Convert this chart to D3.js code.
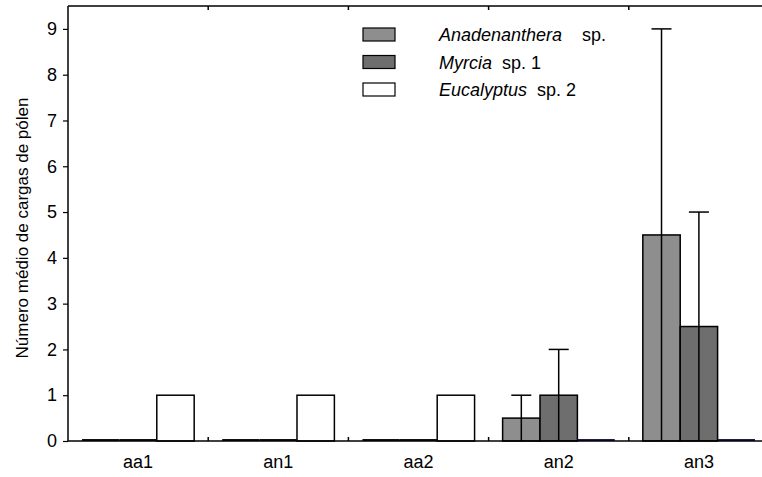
<!DOCTYPE html>
<html lang="pt">

<head>
  <meta charset="utf-8">
  <title>Cargas de pólen</title>
  <script src="https://cdn.jsdelivr.net/npm/d3@7"></script>
  <style>
    body { margin: 0; background: #fff; }
    text { font-family: "Liberation Sans", Arial, sans-serif; fill: #000; }
  </style>
</head>

<body>
  <script>
    var categories = ["aa1", "an1", "aa2", "an2", "an3"];
    var seriesNames = ["Anadenanthera", "Myrcia", "Eucalyptus"];
    var anadenanthera = [0, 0, 0, 0.5, 4.5];
    var anadenantheraErr = [0, 0, 0, 0.5, 4.5];
    var myrcia = [0, 0, 0, 1, 2.5];
    var myrciaErr = [0, 0, 0, 1, 2.5];
    var eucalyptus = [1, 1, 1, 0, 0];
    var eucalyptusErr = [0, 0, 0, 0, 0];
    var yTicks = [0, 1, 2, 3, 4, 5, 6, 7, 8, 9];

    var w = 762;
    var h = 477;
    var margin = { left: 68, right: 769, top: 6, bottom: 441 };

    var fills = ["#8e8e8e", "#6e6e6e", "#ffffff"];
    var zeroStroke = ["#111", "#111", "#1c1c55"];
    var values = [anadenanthera, myrcia, eucalyptus];
    var errors = [anadenantheraErr, myrciaErr, eucalyptusErr];

    var x = d3.scaleBand()
      .domain(categories)
      .range([margin.left, margin.right])
      .paddingInner(0.2)
      .paddingOuter(0.1);
    var xs = d3.scaleBand()
      .domain(d3.range(seriesNames.length))
      .range([0, x.bandwidth()]);
    var y = d3.scaleLinear()
      .domain([0, 9.5])
      .range([margin.bottom, margin.top]);

    var svg = d3.select("body").append("svg")
      .attr("width", w)
      .attr("height", h);

    // rows of bars, one per category and series
    var rows = [];
    categories.forEach(function (c, i) {
      seriesNames.forEach(function (s, j) {
        rows.push({ cat: c, s: j, v: values[j][i], e: errors[j][i] });
      });
    });

    function bx(d) { return x(d.cat) + xs(d.s); }
    function cx(d) { return bx(d) + xs.bandwidth() / 2; }

    var g = svg.append("g");
    g.selectAll(".bar")
      .data(rows.filter(function (d) { return d.v > 0; }))
      .enter()
      .append("rect")
      .attr("x", bx)
      .attr("y", function (d) { return y(d.v); })
      .attr("width", xs.bandwidth())
      .attr("height", function (d) { return y(0) - y(d.v); })
      .attr("fill", function (d) { return fills[d.s]; })
      .attr("stroke", "#000")
      .attr("stroke-width", 1.5);

    // zero-height bars show as a flat line on the baseline
    g.selectAll(".zero")
      .data(rows.filter(function (d) { return d.v === 0; }))
      .enter()
      .append("line")
      .attr("x1", bx)
      .attr("x2", function (d) { return bx(d) + xs.bandwidth(); })
      .attr("y1", y(0) - 1)
      .attr("y2", y(0) - 1)
      .attr("stroke", function (d) { return zeroStroke[d.s]; })
      .attr("stroke-width", 2);

    var errRows = rows.filter(function (d) { return d.e > 0; });
    g.selectAll(".err")
      .data(errRows)
      .enter()
      .append("line")
      .attr("x1", cx)
      .attr("x2", cx)
      .attr("y1", function (d) { return y(d.v - d.e); })
      .attr("y2", function (d) { return y(d.v + d.e); })
      .attr("stroke", "#000")
      .attr("stroke-width", 1.5);
    g.selectAll(".cap")
      .data(errRows)
      .enter()
      .append("line")
      .attr("x1", function (d) { return cx(d) - 10; })
      .attr("x2", function (d) { return cx(d) + 10; })
      .attr("y1", function (d) { return y(d.v + d.e); })
      .attr("y2", function (d) { return y(d.v + d.e); })
      .attr("stroke", "#000")
      .attr("stroke-width", 1.5);

    // frame
    var frame = svg.append("g").attr("stroke", "#000").attr("stroke-width", 1.5);
    frame.append("line").attr("x1", margin.left).attr("x2", margin.left).attr("y1", margin.top).attr("y2", margin.bottom);
    frame.append("line").attr("x1", margin.left).attr("x2", margin.right).attr("y1", margin.bottom).attr("y2", margin.bottom);
    frame.append("line").attr("x1", margin.left).attr("x2", margin.right).attr("y1", margin.top).attr("y2", margin.top);

    // category boundary ticks, top and bottom
    var bounds = d3.range(1, categories.length).map(function (i) { return margin.left + i * x.step(); });
    frame.selectAll(".bt").data(bounds).enter().append("line")
      .attr("x1", function (d) { return d; }).attr("x2", function (d) { return d; })
      .attr("y1", margin.bottom).attr("y2", margin.bottom - 4);
    frame.selectAll(".tt").data(bounds).enter().append("line")
      .attr("x1", function (d) { return d; }).attr("x2", function (d) { return d; })
      .attr("y1", margin.top).attr("y2", margin.top + 4);

    // y axis
    var yAxis = svg.append("g")
      .attr("transform", "translate(" + margin.left + ",0)")
      .call(d3.axisLeft(y).tickValues(yTicks).tickSize(5).tickPadding(6).tickFormat(d3.format("d")));
    yAxis.select(".domain").remove();
    yAxis.selectAll(".tick line").attr("stroke-width", 1.2);
    yAxis.selectAll("text")
      .attr("font-size", 18)
      .style("font-family", "Liberation Sans, Arial, sans-serif");

    // x labels
    svg.selectAll(".xl")
      .data(categories)
      .enter()
      .append("text")
      .attr("x", function (d) { return x(d) + x.bandwidth() / 2; })
      .attr("y", 468)
      .attr("text-anchor", "middle")
      .attr("font-size", 18)
      .text(function (d) { return d; });

    svg.append("text")
      .attr("transform", "translate(28,228) rotate(-90)")
      .attr("text-anchor", "middle")
      .attr("font-size", 17)
      .text("Número médio de cargas de pólen");

    // legend
    var legendLabels = [
      [["Anadenanthera", true], ["    sp.", false]],
      [["Myrcia", true], ["  sp. 1", false]],
      [["Eucalyptus", true], ["  sp. 2", false]]
    ];
    var item = svg.append("g").selectAll(".li")
      .data(seriesNames)
      .enter()
      .append("g")
      .attr("transform", function (d, i) { return "translate(363," + (28 + i * 27.5) + ")"; });
    item.append("rect")
      .attr("width", 32)
      .attr("height", 13)
      .attr("fill", function (d, i) { return fills[i]; })
      .attr("stroke", "#000")
      .attr("stroke-width", 1.2);
    item.append("text")
      .attr("x", 76)
      .attr("y", 13)
      .attr("font-size", 18)
      .style("white-space", "pre")
      .selectAll("tspan")
      .data(function (d, i) { return legendLabels[i]; })
      .enter()
      .append("tspan")
      .attr("font-style", function (d) { return d[1] ? "italic" : "normal"; })
      .text(function (d) { return d[0]; });
  </script>
</body>

</html>
